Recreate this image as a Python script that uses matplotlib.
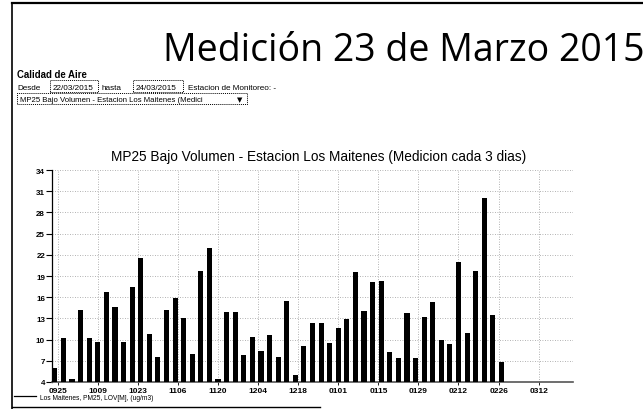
import matplotlib
matplotlib.use("Agg")
import matplotlib.pyplot as plt
from matplotlib.patches import Rectangle
from matplotlib.lines import Line2D
import pandas as pd

# ---- data ----
start_date = "2014-09-24"
values = [6.0, 10.2, 4.4, 14.2, 10.2, 9.6, 16.7, 14.6, 9.6, 17.5, 21.6, 10.8, 7.6,
          14.2, 15.9, 13.0, 8.0, 19.7, 22.9, 4.4, 13.9, 13.9, 7.8, 10.4, 8.4, 10.7,
          7.5, 15.4, 5.0, 9.1, 12.3, 12.3, 9.5, 11.6, 12.9, 19.6, 14.1, 18.2, 18.3,
          8.3, 7.4, 13.7, 7.4, 13.2, 15.3, 9.9, 9.4, 21.0, 11.0, 19.7, 30.1, 13.5, 6.9]
tick_dates = ["2014-09-25", "2014-10-09", "2014-10-23", "2014-11-06", "2014-11-20",
              "2014-12-04", "2014-12-18", "2015-01-01", "2015-01-15", "2015-01-29",
              "2015-02-12", "2015-02-26", "2015-03-12"]
tick_labels = ["0925", "1009", "1023", "1106", "1120", "1204", "1218",
               "0101", "0115", "0129", "0212", "0226", "0312"]
y_ticks = [4, 7, 10, 13, 16, 19, 22, 25, 28, 31, 34]
x_range = ["2014-09-23", "2015-03-24"]

dates = pd.date_range(start_date, periods=len(values), freq="3D")

W, H = 643, 410
fig = plt.figure(figsize=(W / 100, H / 100), dpi=100)
fig.patch.set_facecolor("white")

def fx(px):
    return px / W

def fy(py):
    return 1 - py / H

def box(x0, y0, x1, y1):
    fig.add_artist(Rectangle((fx(x0), fy(y1)), (x1 - x0) / W, (y1 - y0) / H,
                             fill=False, ls=(0, (1, 1)), lw=0.7, ec="black"))

# page frame lines
fig.add_artist(Line2D([fx(12), fx(643)], [fy(4), fy(4)], color="black", lw=1.6))
fig.add_artist(Line2D([fx(12), fx(12)], [fy(4), fy(410)], color="black", lw=1.2))
fig.add_artist(Line2D([fx(12), fx(320)], [fy(408), fy(408)], color="black", lw=1.0))

# big title
fig.text(fx(163), fy(61), "Medición 23 de Marzo 2015", fontsize=27,
         family="Open Sans", ha="left", va="baseline", color="black")

# form texts
sans = "Liberation Sans"
fs = 5.9
fig.text(fx(17), fy(78), "Calidad de Aire", fontsize=6.9, fontweight="bold",
         family=sans, va="baseline")
fig.text(fx(17), fy(90), "Desde", fontsize=fs, family=sans, va="baseline")
fig.text(fx(53), fy(90), "22/03/2015", fontsize=fs, family=sans, va="baseline")
box(50, 81, 98, 93)
fig.text(fx(101), fy(90), "hasta", fontsize=fs, family=sans, va="baseline")
fig.text(fx(136), fy(90), "24/03/2015", fontsize=fs, family=sans, va="baseline")
box(133, 81, 183, 93)
fig.text(fx(188), fy(90), "Estacion de Monitoreo: -", fontsize=fs, family=sans,
         va="baseline")
box(17, 94, 247, 105)
fig.text(fx(20), fy(102), "MP25 Bajo Volumen - Estacion Los Maitenes (Medici",
         fontsize=5.6, family=sans, va="baseline")
fig.text(fx(237), fy(102), "▼", fontsize=5, family="DejaVu Sans", va="baseline")

# chart
ax = fig.add_axes([fx(52), fy(383), fx(573 - 52), (383 - 171) / H])
ax.bar(dates, values, width=1.8, color="black", align="center", zorder=3)
ax.set_xlim(pd.Timestamp(x_range[0]), pd.Timestamp(x_range[1]))
ax.set_ylim(y_ticks[0], y_ticks[-1])
ax.set_yticks(y_ticks)
ax.set_yticklabels([str(v) for v in y_ticks], fontsize=5.8, family=sans,
                   fontweight="bold")
ax.set_xticks(pd.to_datetime(tick_dates))
ax.set_xticklabels(tick_labels, fontsize=6, family=sans, fontweight="bold")
ax.tick_params(axis="y", length=4, width=0.8, pad=1)
ax.tick_params(axis="x", length=2, width=0.6, pad=1.5)
for s in ["top", "right"]:
    ax.spines[s].set_visible(False)
ax.spines["left"].set_linewidth(0.9)
ax.spines["bottom"].set_linewidth(1.2)
ax.spines["bottom"].set_color("#555555")
ax.grid(True, ls=(0, (1, 2)), color="#999999", lw=0.6, zorder=0)
ax.set_axisbelow(True)

fig.text(fx(319), fy(161), "MP25 Bajo Volumen - Estacion Los Maitenes (Medicion cada 3 dias)",
         fontsize=9.8, family=sans, ha="center", va="baseline")

# legend
fig.add_artist(Line2D([fx(14), fx(36)], [fy(397), fy(397)], color="black", lw=0.9))
fig.text(fx(40), fy(400), "Los Maitenes, PM25, LOV[M], (ug/m3)", fontsize=4.8,
         family=sans, va="baseline")

fig.savefig("out.png", dpi=100)
